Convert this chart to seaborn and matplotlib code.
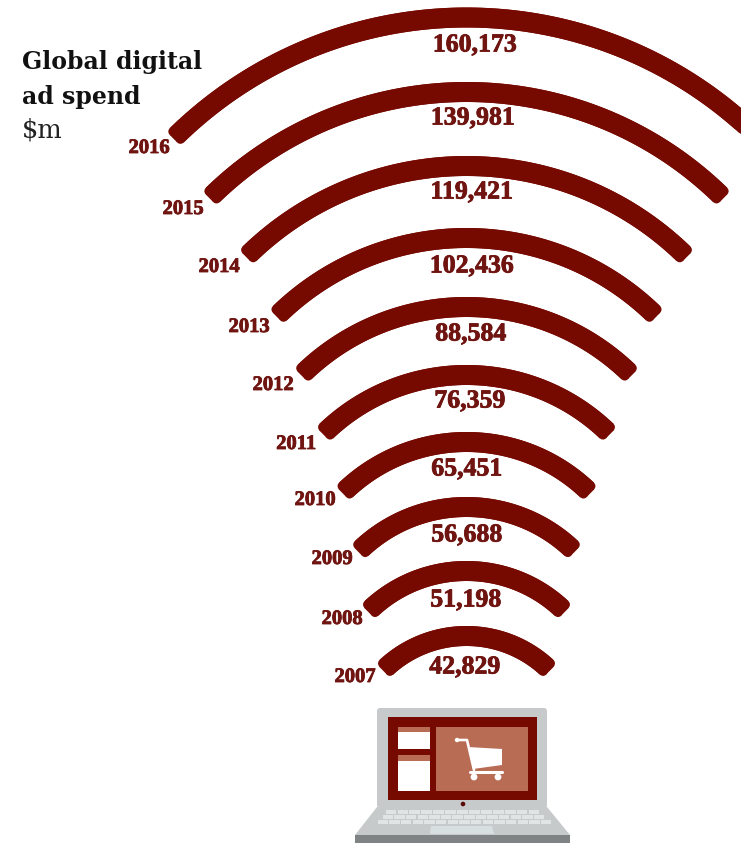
import numpy as np
import pandas as pd
import matplotlib
matplotlib.use("Agg")
import matplotlib.pyplot as plt
import matplotlib.patheffects as pe
from matplotlib.patches import Polygon, Rectangle, FancyBboxPatch, Circle
import seaborn as sns

years = [2016, 2015, 2014, 2013, 2012, 2011, 2010, 2009, 2008, 2007]
spend = [160173, 139981, 119421, 102436, 88584, 76359, 65451, 56688, 51198, 42829]

# Layout of the fan, in canvas pixels
ring_tops = [17.5, 92, 166, 238, 307, 375, 442, 507, 571, 636]
value_label_x = [475, 473, 472, 472, 471, 470, 467, 467, 466, 465]
value_label_y = [45, 118, 192, 266, 334, 401, 469, 535, 600, 667]
year_label_x = [149, 183, 219, 249, 273, 296, 315, 332, 342, 355]
year_label_y = [148, 209, 267, 327, 385, 444, 500, 559, 619, 677]
FAN_X = 466.5
END_ANGLE = np.radians(44.9)
RADIUS_BASE = 10
RADIUS_PER_DOLLAR = 0.00253
BAND_PX = 20
CORNER_PX = 4.5
PX_TO_PT = 0.72

MAROON = "#760900"
LABEL = "#6f1410"
SCREEN = "#b86c54"
BODY = "#c6caca"
KEYS = "#e1e4e4"
TRACKPAD = "#d8dfe0"
BASE = "#7f8383"

sns.set_theme(style="white")
plt.rcParams["font.family"] = ["Liberation Serif", "DejaVu Serif"]

fig = plt.figure(figsize=(7.41, 8.44), dpi=100)
ax = fig.add_axes([0, 0, 1, 1])


def arc_frame(year, radius, top, offset, end_angle):
    """Sample one circular strip of a band, with the apex centre at `top`."""
    angles = np.linspace(-end_angle, end_angle, 120)
    return pd.DataFrame({
        "unit": f"{year}{offset:+}",
        "x": FAN_X + (radius + offset) * np.sin(angles),
        "y": top + radius - (radius + offset) * np.cos(angles),
    })


# Every arc spans the same angle, so its length grows with the year's spend.
# Each band is layered: a full-width body that stops short of the ends, a narrow
# strip reaching the ends, and two round-capped edges that soften the corners.
bodies, strips, edges = [], [], []
inset = BAND_PX / 2 - CORNER_PX
for year, value, top in zip(years, spend, ring_tops):
    radius = RADIUS_BASE + value * RADIUS_PER_DOLLAR
    inner_angle = END_ANGLE - CORNER_PX / radius
    bodies.append(arc_frame(year, radius, top, 0.0, inner_angle))
    strips.append(arc_frame(year, radius, top, 0.0, END_ANGLE))
    edges.append(arc_frame(year, radius, top, -inset, inner_angle))
    edges.append(arc_frame(year, radius, top, inset, inner_angle))

for frames, width, cap in [(bodies, BAND_PX, "butt"),
                           (strips, 2 * inset, "butt"),
                           (edges, 2 * CORNER_PX, "round")]:
    sns.lineplot(data=pd.concat(frames, ignore_index=True), x="x", y="y", units="unit",
                 estimator=None, sort=False, color=MAROON, linewidth=width * PX_TO_PT,
                 solid_capstyle=cap, legend=False, ax=ax)

ax.set_xlim(0, 741)
ax.set_ylim(844, 0)
ax.axis("off")

# A thin stroke evens out the thin parts of the bold numerals
heavy = [pe.withStroke(linewidth=0.6, foreground=LABEL)]
for value, x, y in zip(spend, value_label_x, value_label_y):
    ax.text(x, y, f"{value:,}", ha="center", va="center", color=LABEL,
            fontsize=18.6, fontweight="bold", path_effects=heavy)
for year, x, y in zip(years, year_label_x, year_label_y):
    ax.text(x, y, str(year), ha="center", va="center", color=LABEL,
            fontsize=14.8, fontweight="bold", path_effects=heavy)

ax.text(22, 62, "Global digital", ha="left", va="center", color="#111111",
        fontsize=17, fontweight="bold", family="DejaVu Serif")
ax.text(22, 97, "ad spend", ha="left", va="center", color="#111111",
        fontsize=17, fontweight="bold", family="DejaVu Serif")
ax.text(22, 130, "$m", ha="left", va="center", color="#222222",
        fontsize=18.5, family="DejaVu Serif", parse_math=False)

# Laptop: lid, screen panels, keyboard deck and base
ax.add_patch(FancyBboxPatch((377, 708), 170, 100, boxstyle="round,pad=0,rounding_size=3",
                            fc=BODY, ec="none"))
ax.add_patch(Rectangle((388, 717), 149, 83, fc=MAROON, ec="none"))
ax.add_patch(Rectangle((398, 727), 32, 22, fc="white", ec="none"))
ax.add_patch(Rectangle((398, 727), 32, 5, fc=SCREEN, ec="none"))
ax.add_patch(Rectangle((398, 755), 32, 36, fc="white", ec="none"))
ax.add_patch(Rectangle((398, 755), 32, 6, fc=SCREEN, ec="none"))
ax.add_patch(Rectangle((436, 727), 92, 64, fc=SCREEN, ec="none"))
ax.add_patch(Circle((463, 804), 2.3, fc="#5a0a05", ec="none"))
ax.add_patch(Polygon([(377, 807), (547, 807), (570, 835), (355, 835)], fc=BODY, ec="none"))
ax.add_patch(Rectangle((355, 835), 215, 8, fc=BASE, ec="none"))

# Key rows widen towards the front of the deck
for y, left, right, count in [(812, 385, 540, 13), (817.2, 382, 545, 14), (822, 377, 552, 15)]:
    bounds = np.linspace(left, right, count + 1)
    for a, b in zip(bounds[:-1], bounds[1:]):
        ax.add_patch(Rectangle((a + 0.6, y - 1.9), b - a - 1.2, 3.8, fc=KEYS, ec="none"))
ax.add_patch(Polygon([(431, 826), (492, 826), (494, 834), (430, 834)], fc=TRACKPAD, ec="none"))

# Shopping cart on the main panel
ax.plot([457, 467, 474], [740, 740, 770], color="white", lw=1.9, solid_capstyle="round")
ax.plot([470, 502], [771.5, 771.5], color="white", lw=2.2, solid_capstyle="round")
ax.add_patch(Polygon([(468, 747), (502, 749), (502, 765), (473, 769)], fc="white", ec="none"))
ax.add_patch(Circle((474, 777), 3.4, fc="white", ec="none"))
ax.add_patch(Circle((498, 777), 3.4, fc="white", ec="none"))
ax.add_patch(Circle((457, 740), 2.2, fc="white", ec="none"))

fig.savefig("out.png", dpi=100, facecolor="white")
